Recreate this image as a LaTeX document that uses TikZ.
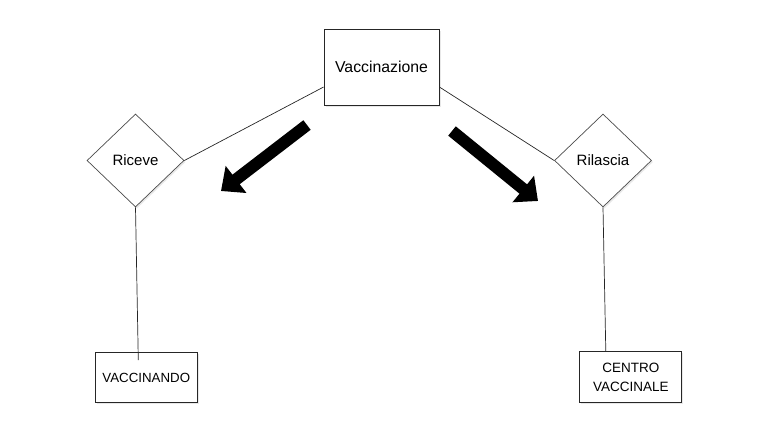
\documentclass[tikz,border=0pt]{standalone}
\usepackage{fontspec}
\setmainfont{Liberation Sans}
\usetikzlibrary{shapes.geometric,arrows.meta,shadows}

\begin{document}
\begin{tikzpicture}[x=1pt,y=-1pt,
        entita/.style={draw=black!85,fill=white,line width=0.8pt,inner sep=0pt,
            drop shadow={opacity=0.18,shadow xshift=1.5pt,shadow yshift=-1.5pt}},
        relazione/.style={diamond,aspect=1,draw=black!70,fill=white,line width=0.7pt,inner sep=0pt,
            minimum width=97pt,minimum height=93pt,font=\fontsize{15}{18}\selectfont,
            drop shadow={opacity=0.18,shadow xshift=1.5pt,shadow yshift=-1.5pt}},
        linea/.style={draw=black!85,line width=0.7pt},
        freccia/.style={line width=12pt,-{Triangle[width=33pt,length=19pt]}}]
            % Rahmen
            \useasboundingbox (0,0) rectangle (763,442);
            % Entita:
            \node[entita,minimum width=115pt,minimum height=76pt,font=\fontsize{15.8}{19}\selectfont]
                (vacc) at (381.5,67) {Vaccinazione};
            \node[entita,minimum width=102pt,minimum height=50pt,font=\fontsize{13.3}{16}\selectfont]
                (vaccinando) at (146.3,377.5) {VACCINANDO};
            \node[entita,minimum width=102pt,minimum height=51pt,align=center,font=\fontsize{13.5}{19}\selectfont]
                (centro) at (630.8,377.2) {CENTRO\\VACCINALE};
            % Relazioni:
            \node[relazione] (riceve) at (135.5,160.5) {Riceve};
            \node[relazione] (rilascia) at (603,160.5) {Rilascia};
            % Linien:
            \draw[linea] ([yshift=-20pt]vacc.west) -- (riceve.east);
            \draw[linea] ([yshift=-20pt]vacc.east) -- (rilascia.west);
            \draw[linea] (riceve.south) -- ([shift={(-8pt,-8pt)}]vaccinando.north);
            \draw[linea] (rilascia.south) -- ([xshift=-25pt]centro.north);
            % Pfeile:
            \coordinate (sx) at (307,125);
            \coordinate (sxpunta) at (221,191);
            \coordinate (dx) at (452,131);
            \coordinate (dxpunta) at (538,201);
            \draw[freccia] (sx) -- (sxpunta);
            \draw[freccia] (dx) -- (dxpunta);
        \end{tikzpicture}
\end{document}
